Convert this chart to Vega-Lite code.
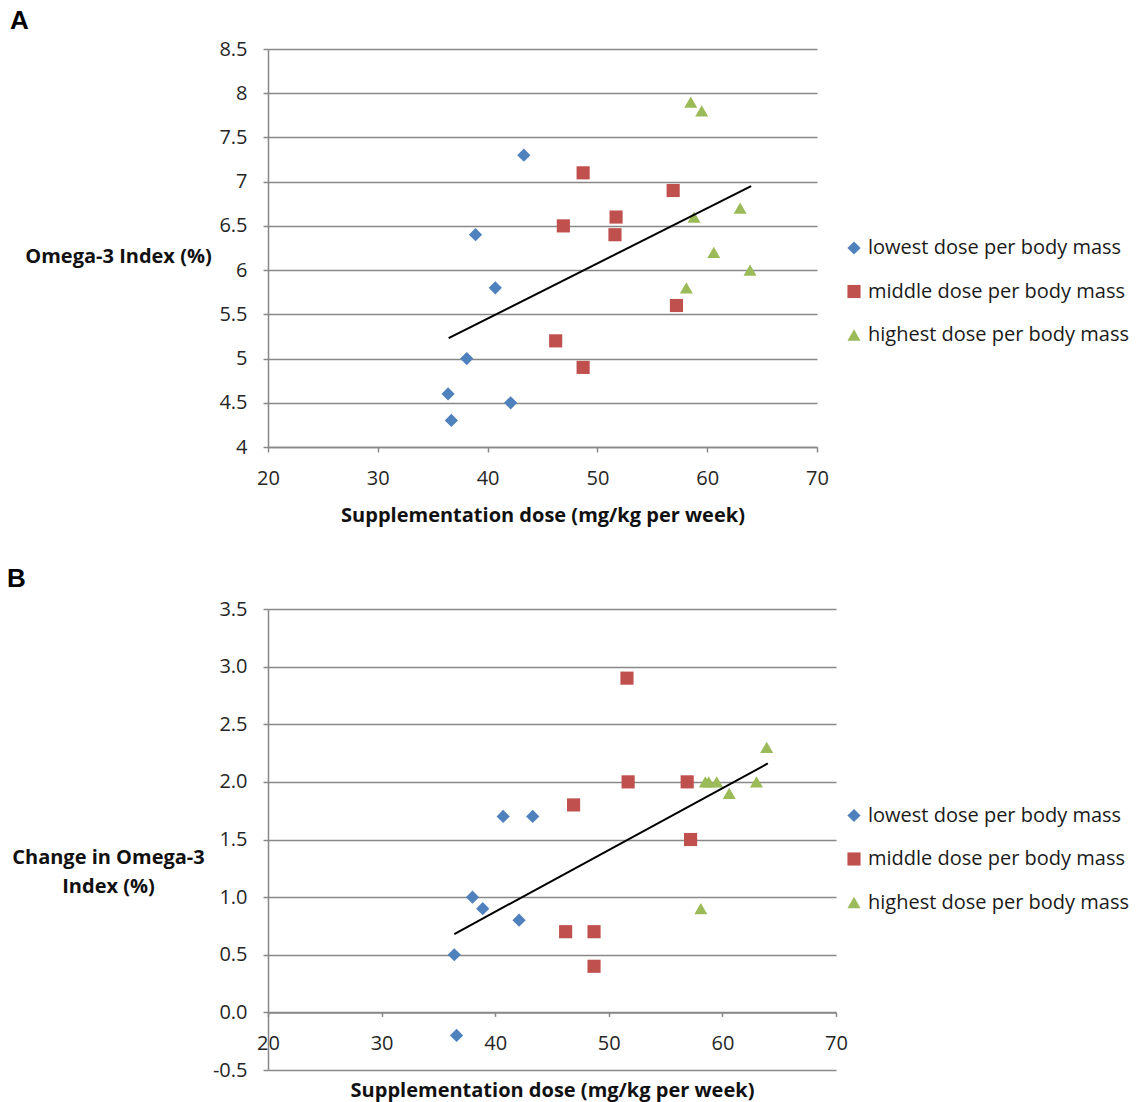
{
  "$schema": "https://vega.github.io/schema/vega-lite/v6.json",
  "padding": {"left": 7, "top": 8, "right": 0, "bottom": 6},
  "background": "white",
  "bounds": "flush",
  "spacing": 162,
  "config": {
    "font": "Open Sans",
    "view": {"stroke": null},
    "axis": {
      "domainColor": "#888888", "domainWidth": 1.5,
      "tickColor": "#888888", "tickWidth": 1.5, "tickSize": 5,
      "gridColor": "#888888", "gridWidth": 1.5,
      "labelFont": "Open Sans", "labelFontSize": 20, "labelColor": "#262626", "labelFlush": false,
      "titleFont": "Open Sans", "titleFontSize": 20, "titleFontWeight": "bold", "titleColor": "#111111"
    },
    "legend": {
      "orient": "none", "padding": 0, "labelFont": "Open Sans", "labelFontSize": 20, "labelLimit": 0,
      "labelColor": "#1a1a1a", "symbolSize": 125, "rowPadding": 23.5, "labelOffset": 4,
      "symbolStrokeWidth": 0
    },
    "title": {"font": "Liberation Sans", "fontSize": 26, "fontWeight": "bold", "color": "#000000", "anchor": "start", "frame": "group"}
  },
  "datasets": {
    "a": [
      {"dose": 43.3, "value": 7.3, "group": "lowest dose per body mass"},
      {"dose": 38.9, "value": 6.4, "group": "lowest dose per body mass"},
      {"dose": 40.7, "value": 5.8, "group": "lowest dose per body mass"},
      {"dose": 38.1, "value": 5.0, "group": "lowest dose per body mass"},
      {"dose": 36.4, "value": 4.6, "group": "lowest dose per body mass"},
      {"dose": 42.1, "value": 4.5, "group": "lowest dose per body mass"},
      {"dose": 36.7, "value": 4.3, "group": "lowest dose per body mass"},
      {"dose": 48.7, "value": 7.1, "group": "middle dose per body mass"},
      {"dose": 56.9, "value": 6.9, "group": "middle dose per body mass"},
      {"dose": 51.7, "value": 6.6, "group": "middle dose per body mass"},
      {"dose": 46.9, "value": 6.5, "group": "middle dose per body mass"},
      {"dose": 51.6, "value": 6.4, "group": "middle dose per body mass"},
      {"dose": 57.2, "value": 5.6, "group": "middle dose per body mass"},
      {"dose": 46.2, "value": 5.2, "group": "middle dose per body mass"},
      {"dose": 48.7, "value": 4.9, "group": "middle dose per body mass"},
      {"dose": 58.5, "value": 7.9, "group": "highest dose per body mass"},
      {"dose": 59.5, "value": 7.8, "group": "highest dose per body mass"},
      {"dose": 63.0, "value": 6.7, "group": "highest dose per body mass"},
      {"dose": 58.8, "value": 6.6, "group": "highest dose per body mass"},
      {"dose": 60.6, "value": 6.2, "group": "highest dose per body mass"},
      {"dose": 63.9, "value": 6.0, "group": "highest dose per body mass"},
      {"dose": 58.1, "value": 5.8, "group": "highest dose per body mass"}
    ],
    "b": [
      {"dose": 40.7, "value": 1.7, "group": "lowest dose per body mass"},
      {"dose": 43.3, "value": 1.7, "group": "lowest dose per body mass"},
      {"dose": 38.0, "value": 1.0, "group": "lowest dose per body mass"},
      {"dose": 38.9, "value": 0.9, "group": "lowest dose per body mass"},
      {"dose": 42.1, "value": 0.8, "group": "lowest dose per body mass"},
      {"dose": 36.4, "value": 0.5, "group": "lowest dose per body mass"},
      {"dose": 36.6, "value": -0.2, "group": "lowest dose per body mass"},
      {"dose": 51.6, "value": 2.9, "group": "middle dose per body mass"},
      {"dose": 51.7, "value": 2.0, "group": "middle dose per body mass"},
      {"dose": 56.9, "value": 2.0, "group": "middle dose per body mass"},
      {"dose": 46.9, "value": 1.8, "group": "middle dose per body mass"},
      {"dose": 57.2, "value": 1.5, "group": "middle dose per body mass"},
      {"dose": 46.2, "value": 0.7, "group": "middle dose per body mass"},
      {"dose": 48.7, "value": 0.7, "group": "middle dose per body mass"},
      {"dose": 48.7, "value": 0.4, "group": "middle dose per body mass"},
      {"dose": 63.9, "value": 2.3, "group": "highest dose per body mass"},
      {"dose": 58.5, "value": 2.0, "group": "highest dose per body mass"},
      {"dose": 58.8, "value": 2.0, "group": "highest dose per body mass"},
      {"dose": 59.5, "value": 2.0, "group": "highest dose per body mass"},
      {"dose": 60.6, "value": 1.9, "group": "highest dose per body mass"},
      {"dose": 63.0, "value": 2.0, "group": "highest dose per body mass"},
      {"dose": 58.1, "value": 0.9, "group": "highest dose per body mass"}
    ],
    "trendA": [
      {"dose": 36.45, "value": 5.23},
      {"dose": 64.0, "value": 6.95}
    ],
    "trendB": [
      {"dose": 36.4, "value": 0.68},
      {"dose": 64.0, "value": 2.16}
    ]
  },
  "resolve": {"scale": {"color": "independent", "shape": "independent", "size": "independent", "x": "independent", "y": "independent"}},
  "vconcat": [
    {
      "width": 549,
      "height": 398,
      "title": {"text": "A", "dx": -258, "offset": 5},
      "layer": [
        {
          "data": {"name": "a"},
          "mark": {"type": "point", "filled": true, "opacity": 1, "strokeWidth": 0},
          "encoding": {
            "x": {"field": "dose", "type": "quantitative",
              "scale": {"domain": [20, 70], "nice": false, "zero": false},
              "axis": {"values": [20, 30, 40, 50, 60, 70], "format": "d", "grid": false, "labelPadding": 16.5,
                "title": "Supplementation dose (mg/kg per week)", "titleBaseline": "middle", "titleY": 68}},
            "y": {"field": "value", "type": "quantitative",
              "scale": {"domain": [4, 8.5], "nice": false, "zero": false},
              "axis": {"values": [4, 4.5, 5, 5.5, 6, 6.5, 7, 7.5, 8, 8.5], "format": ".1~f", "grid": true, "labelPadding": 16,
                "title": "Omega-3 Index (%)", "titleAngle": 0, "titleAlign": "center", "titleBaseline": "middle", "titleX": -150, "titleY": 207}},
            "color": {"field": "group", "type": "nominal",
              "scale": {"domain": ["lowest dose per body mass", "middle dose per body mass", "highest dose per body mass"], "range": ["#4f81bd", "#c0504d", "#9bbb59"]},
              "legend": {"title": null, "legendX": 576, "legendY": 189}},
            "shape": {"field": "group", "type": "nominal",
              "scale": {"domain": ["lowest dose per body mass", "middle dose per body mass", "highest dose per body mass"], "range": ["diamond", "square", "triangle-up"]},
              "legend": {"title": null, "legendX": 576, "legendY": 189}},
            "size": {"field": "group", "type": "nominal",
              "scale": {"domain": ["lowest dose per body mass", "middle dose per body mass", "highest dose per body mass"], "range": [175, 170, 290]},
              "legend": null}
          }
        },
        {
          "data": {"name": "trendA"},
          "mark": {"type": "line", "color": "#000000", "strokeWidth": 2},
          "encoding": {
            "x": {"field": "dose", "type": "quantitative"},
            "y": {"field": "value", "type": "quantitative"}
          }
        }
      ]
    },
    {
      "width": 568,
      "height": 461,
      "title": {"text": "B", "dx": -261, "offset": 7.5},
      "layer": [
        {
          "data": {"name": "b"},
          "mark": {"type": "point", "filled": true, "opacity": 1, "strokeWidth": 0},
          "encoding": {
            "x": {"field": "dose", "type": "quantitative",
              "scale": {"domain": [20, 70], "nice": false, "zero": false},
              "axis": {"values": [20, 30, 40, 50, 60, 70], "format": "d", "grid": false, "labelPadding": 17.5, "offset": -57.6, "tickSize": 4,
                "title": "Supplementation dose (mg/kg per week)", "titleBaseline": "middle", "titleY": 78}},
            "y": {"field": "value", "type": "quantitative",
              "scale": {"domain": [-0.5, 3.5], "nice": false, "zero": false},
              "axis": {"values": [-0.5, 0, 0.5, 1, 1.5, 2, 2.5, 3, 3.5], "labelExpr": "replace(format(datum.value, '.1f'), '\u2212', '-')", "grid": true, "labelPadding": 16,
                "title": ["Change in Omega-3", "Index (%)"], "titleLineHeight": 29, "titleAngle": 0, "titleAlign": "center", "titleBaseline": "middle", "titleX": -160, "titleY": 248}},
            "color": {"field": "group", "type": "nominal",
              "scale": {"domain": ["lowest dose per body mass", "middle dose per body mass", "highest dose per body mass"], "range": ["#4f81bd", "#c0504d", "#9bbb59"]},
              "legend": {"title": null, "legendX": 576, "legendY": 196.5}},
            "shape": {"field": "group", "type": "nominal",
              "scale": {"domain": ["lowest dose per body mass", "middle dose per body mass", "highest dose per body mass"], "range": ["diamond", "square", "triangle-up"]},
              "legend": {"title": null, "legendX": 576, "legendY": 196.5}},
            "size": {"field": "group", "type": "nominal",
              "scale": {"domain": ["lowest dose per body mass", "middle dose per body mass", "highest dose per body mass"], "range": [175, 170, 290]},
              "legend": null}
          }
        },
        {
          "data": {"name": "trendB"},
          "mark": {"type": "line", "color": "#000000", "strokeWidth": 2},
          "encoding": {
            "x": {"field": "dose", "type": "quantitative"},
            "y": {"field": "value", "type": "quantitative"}
          }
        }
      ]
    }
  ]
}
